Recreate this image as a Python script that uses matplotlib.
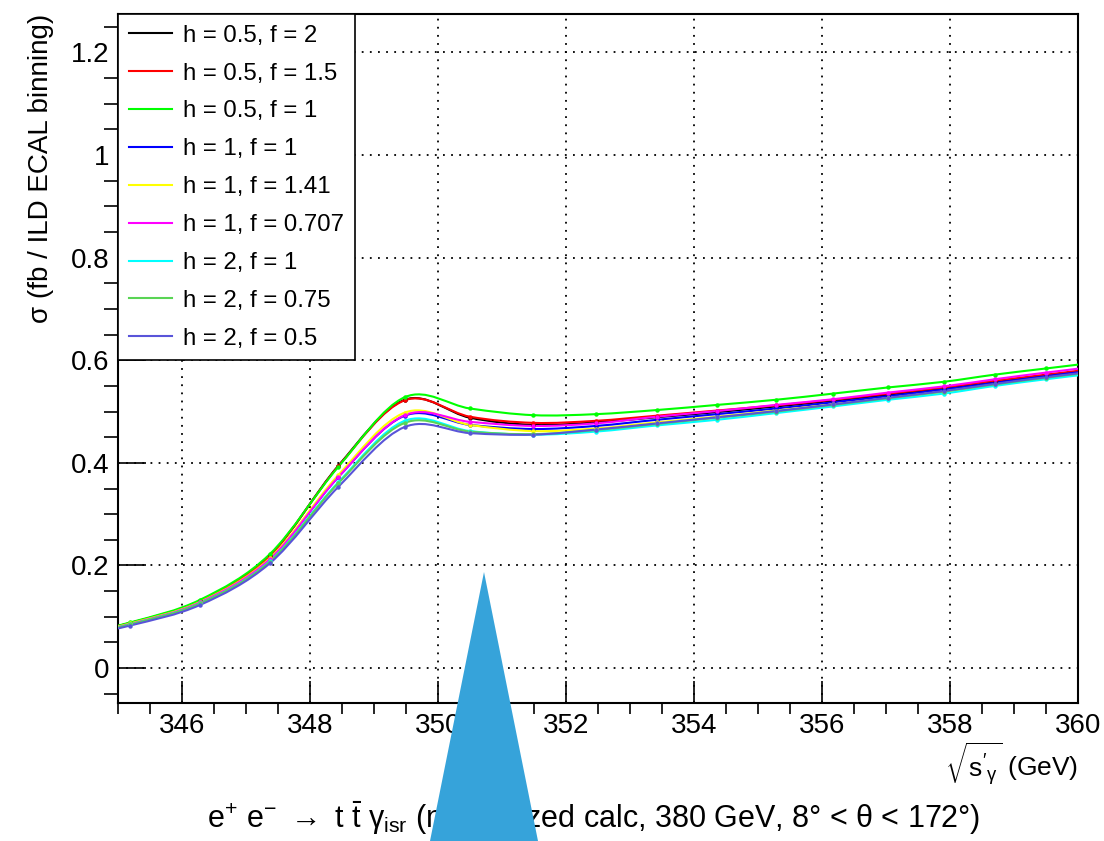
import matplotlib
matplotlib.use("Agg")
import matplotlib.pyplot as plt
import numpy as np
from matplotlib.path import Path
from matplotlib.patches import PathPatch, Polygon
from matplotlib.lines import Line2D
from matplotlib import ticker

plt.rcParams['font.family'] = ['Liberation Sans', 'DejaVu Sans']
plt.rcParams['mathtext.fontset'] = 'custom'
plt.rcParams['mathtext.rm'] = 'Liberation Sans'
plt.rcParams['mathtext.it'] = 'Liberation Sans'
plt.rcParams['mathtext.bf'] = 'Liberation Sans:bold'

# bin centres (GeV) and cross sections (fb)
sqrt_s = [344.09, 345.19, 346.28, 347.37, 348.44, 349.48, 350.50, 351.49, 352.47,
          353.42, 354.36, 355.28, 356.17, 357.03, 357.90, 358.70, 359.50, 360.30]

h05_f2 = [0.057, 0.088, 0.131, 0.219, 0.394, 0.523, 0.488, 0.474, 0.479,
          0.489, 0.499, 0.510, 0.521, 0.533, 0.545, 0.558, 0.570, 0.582]
h05_f15 = [0.057, 0.088, 0.131, 0.219, 0.393, 0.522, 0.490, 0.478, 0.482,
           0.492, 0.502, 0.512, 0.523, 0.535, 0.547, 0.560, 0.572, 0.584]
h05_f1 = [0.058, 0.089, 0.133, 0.222, 0.392, 0.528, 0.506, 0.493, 0.495,
          0.503, 0.513, 0.523, 0.535, 0.547, 0.558, 0.572, 0.584, 0.596]
h1_f1 = [0.056, 0.086, 0.128, 0.212, 0.372, 0.492, 0.474, 0.466, 0.472,
         0.484, 0.495, 0.506, 0.518, 0.530, 0.543, 0.556, 0.569, 0.581]
h1_f141 = [0.056, 0.087, 0.129, 0.214, 0.376, 0.498, 0.474, 0.462, 0.467,
           0.479, 0.490, 0.502, 0.514, 0.526, 0.539, 0.552, 0.565, 0.577]
h1_f0707 = [0.056, 0.086, 0.128, 0.212, 0.372, 0.493, 0.480, 0.472, 0.477,
            0.490, 0.501, 0.513, 0.524, 0.537, 0.549, 0.563, 0.576, 0.588]
h2_f1 = [0.055, 0.085, 0.126, 0.208, 0.362, 0.482, 0.462, 0.455, 0.461,
         0.473, 0.484, 0.497, 0.510, 0.523, 0.535, 0.550, 0.563, 0.575]
h2_f075 = [0.055, 0.085, 0.126, 0.207, 0.360, 0.478, 0.461, 0.456, 0.464,
           0.476, 0.488, 0.500, 0.513, 0.526, 0.539, 0.553, 0.566, 0.578]
h2_f05 = [0.054, 0.083, 0.123, 0.204, 0.353, 0.470, 0.458, 0.455, 0.465,
          0.477, 0.489, 0.501, 0.514, 0.527, 0.540, 0.554, 0.567, 0.579]

labels = ["h = 0.5, f = 2", "h = 0.5, f = 1.5", "h = 0.5, f = 1",
          "h = 1, f = 1", "h = 1, f = 1.41", "h = 1, f = 0.707",
          "h = 2, f = 1", "h = 2, f = 0.75", "h = 2, f = 0.5"]
series = [h05_f2, h05_f15, h05_f1, h1_f1, h1_f141, h1_f0707, h2_f1, h2_f075, h2_f05]
# ROOT colour indices 1..9
colors = ["#000000", "#ff0000", "#00ff00", "#0000ff", "#ffff00",
          "#ff00ff", "#00ffff", "#59d454", "#5954d9"]


def smooth_path(xs, ys):
    # Catmull-Rom through the points, drawn as cubic Bezier pieces (like ROOT "C")
    p = np.column_stack([xs, ys])
    pts = np.vstack([p[0], p, p[-1]])
    verts = [p[0]]
    codes = [Path.MOVETO]
    for i in range(1, len(pts) - 2):
        c1 = pts[i] + (pts[i + 1] - pts[i - 1]) / 6.0
        c2 = pts[i + 1] - (pts[i + 2] - pts[i]) / 6.0
        verts += [c1, c2, pts[i + 1]]
        codes += [Path.CURVE4] * 3
    return Path(verts, codes)


fig = plt.figure(figsize=(11.04, 8.41), dpi=100)
ax = fig.add_axes([0.1069, 0.1641, 0.8695, 0.8193])

handles = []
for ys, col, lab in zip(series, colors, labels):
    ax.add_patch(PathPatch(smooth_path(sqrt_s, ys), facecolor='none',
                           edgecolor=col, lw=1.5, zorder=3))
    ax.plot(sqrt_s, ys, 'o', color=col, ms=3.2, mew=0, zorder=4)
    handles.append(Line2D([], [], color=col, lw=1.5))

ax.set_xlim(345, 360)
ax.set_ylim(-0.068, 1.275)

ax.xaxis.set_major_locator(ticker.MultipleLocator(2))
ax.xaxis.set_minor_locator(ticker.MultipleLocator(0.5))
ax.yaxis.set_major_locator(ticker.MultipleLocator(0.2))
ax.yaxis.set_minor_locator(ticker.MultipleLocator(0.05))
ax.yaxis.set_major_formatter(ticker.FuncFormatter(lambda v, p: "%g" % round(v, 3)))

ax.tick_params(axis='both', direction='in', labelsize=20, width=1.2, color='black')
ax.tick_params(axis='x', which='major', length=16, pad=7)
ax.tick_params(axis='x', which='minor', length=8, width=1.2)
ax.tick_params(axis='y', which='major', length=20, pad=6)
ax.tick_params(axis='y', which='minor', length=10, width=1.2)

ax.grid(True, which='major', color='black', linestyle=(0, (1, 3.5)), linewidth=1.3)
ax.set_axisbelow(True)
for s in ax.spines.values():
    s.set_linewidth(1.5)

ax.set_ylabel(u"\u03c3 (fb / ILD ECAL binning)", fontsize=20, loc='top', labelpad=12)
ax.set_xlabel(r"$\sqrt{\mathrm{s'_{\gamma}}}$ (GeV)", fontsize=19, loc='right', labelpad=1)

leg = ax.legend(handles, labels, loc='upper left', bbox_to_anchor=(0, 1),
                borderaxespad=0, fontsize=17.3, frameon=True, fancybox=False,
                edgecolor='black', framealpha=1, handlelength=1.8,
                handletextpad=0.45, labelspacing=0.66, borderpad=0.45)
leg.get_frame().set_linewidth(1.2)

fig.text(0.538, 0.027,
         r"e$^{+}$ e$^{-}$ $\rightarrow$ t $\bar{\mathrm{t}}$ $\gamma_{\mathrm{isr}}$"
         u" (normalized calc, 380 GeV, 8\u00b0 < \u03b8 < 172\u00b0)",
         ha='center', va='center', fontsize=22)

# blue pointer shape lying over the title
tri_px = [(484, 572), (430, 841), (538, 841)]
tri = Polygon([(x / 1104.0, 1 - y / 841.0) for x, y in tri_px], closed=True,
              transform=fig.transFigure, facecolor='#36a3da', edgecolor='none',
              zorder=10)
fig.patches.append(tri)

fig.savefig("out.png", dpi=100)
